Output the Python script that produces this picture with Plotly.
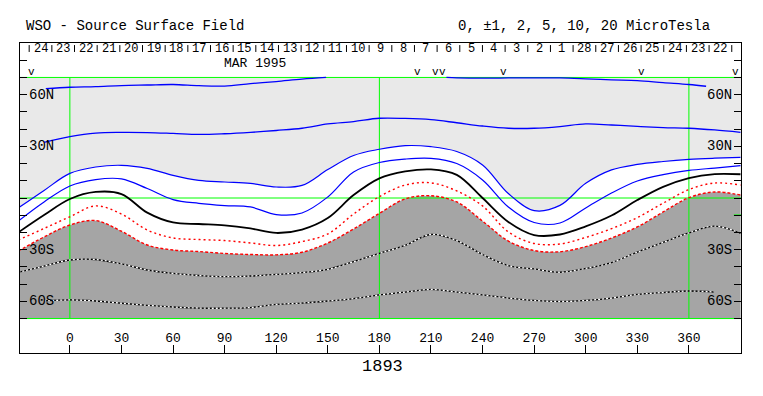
import plotly.graph_objects as go

# ---------------- data ----------------
LON = [-30, -15, 0, 15, 30, 45, 60, 75, 90, 105, 120, 135, 150, 165, 180, 195,
       210, 225, 240, 255, 270, 285, 300, 315, 330, 345, 360, 375, 390]

# contour latitudes (deg) at each LON
POS10_W_LON = [-14, 0, 15, 30, 45, 60, 75, 90, 105, 120, 135, 149]
POS10_W = [63.5, 64.3, 64.7, 65.3, 65.6, 65.9, 65.2, 65.0, 66.4, 67.6, 69.0, 70.0]
POS10_E_LON = [219, 225, 240, 255, 270, 285, 300, 315, 330, 345, 360, 370]
POS10_E = [70.0, 69.8, 69.6, 69.7, 69.8, 69.7, 69.2, 68.6, 68.2, 67.0, 65.9, 64.9]

POS5 = [None, 32.3, 35.6, 37.7, 38.1, 38.0, 37.5, 36.9, 37.3, 38.1, 39.2, 40.5, 43.0, 44.4,
        46.3, 46.2, 45.5, 43.7, 41.8, 40.5, 40.5, 41.5, 43.0, 42.4, 41.6, 40.9, 40.5, 39.5, 38.1]
POS2 = [-5.8, 4.4, 14.3, 18.0, 19.0, 17.2, 13.1, 10.2, 9.3, 8.5, 6.4, 7.3, 16.5, 24.7,
        28.3, 30.4, 29.8, 27.0, 19.2, 2.6, -7.3, -4.3, 8.5, 16.3, 19.5, 21.2, 22.4, 23.1, 23.6]
POS1 = [-13.4, -2.3, 7.0, 10.7, 11.1, 5.5, -0.9, -3.1, -4.4, -5.2, -9.6, -8.7, 0.6, 15.1,
        20.6, 22.6, 23.0, 20.0, 10.5, -5.2, -14.2, -14.5, -5.8, 2.9, 9.9, 13.6, 16.0, 17.4, 18.8]
NEUTRAL = [-20.0, -9.9, -0.6, 3.5, 2.3, -8.5, -14.2, -15.1, -15.9, -17.7, -20.3, -18.3, -11.6, 1.7,
           11.4, 15.4, 16.6, 13.4, 0.0, -13.9, -21.5, -21.2, -16.5, -10.2, -1.2, 6.5, 11.6, 13.9, 13.8]
NEG1 = [-24.4, -17.7, -10.9, -4.6, -9.3, -18.6, -23.2, -24.1, -24.7, -26.1, -27.6, -25.3, -20.9, -9.3,
        0.8, 7.5, 8.8, 4.1, -4.6, -19.7, -26.4, -26.7, -22.9, -17.8, -11.4, -3.0, 4.9, 8.7, 7.5]
NEG2 = [-30.8, -22.6, -15.7, -13.1, -19.3, -27.3, -30.2, -31.1, -32.2, -32.8, -33.0, -31.5, -26.1, -18.0,
        -8.9, -0.5, 1.3, -2.3, -13.4, -25.0, -30.5, -31.2, -28.2, -23.2, -16.8, -8.1, 0.2, 3.5, 1.7]
NEG5 = [-43.1, -39.5, -36.0, -35.7, -38.3, -41.8, -43.8, -45.0, -45.7, -45.3, -44.4, -43.3, -41.4, -37.0,
        -32.2, -27.5, -21.2, -24.7, -32.8, -39.2, -41.2, -43.1, -40.9, -37.5, -31.4, -25.8, -20.3, -16.3, -20.5]
NEG10 = [None, -59.8, -59.2, -59.8, -61.1, -62.3, -63.3, -63.9, -64.0, -63.6, -61.8, -61.0, -59.8, -58.4,
         -56.3, -54.6, -53.1, -54.6, -56.3, -58.1, -59.5, -60.1, -59.5, -58.1, -56.0, -54.9, -54.0, -54.6, None]

# axes / labels
X_TICKS = [0, 30, 60, 90, 120, 150, 180, 210, 240, 270, 300, 330, 360]
Y_TICKS = [-80, -70, -60, -50, -40, -30, -20, -10, 0, 10, 20, 30, 40, 50, 60, 70, 80]
LAT_LABEL_VALS = [60, 30, -30, -60]
LAT_LABEL_TEXT = ["60N", "30N", "30S", "60S"]
DAY_LABELS = ["24", "23", "22", "21", "20", "19", "18", "17", "16", "15", "14", "13", "12", "11",
              "10", "9", "8", "7", "6", "5", "4", "3", "2", "1", "28", "27", "26", "25", "24", "23", "22"]
DAY_TICK_START = -23.66   # Carrington longitude of first day boundary
DEG_PER_DAY = 13.18
OBS_LON = [-22.3, 202.1, 212.6, 216.6, 252.3, 332.3, 387.1]
GREEN_LON = [0, 180, 360]
GREEN_LAT = [-70, 0, 70]
B0_START, B0_END = -7.0, -9.9
ROTATION = "1893"
MONTH = "MAR 1995"
TITLE_L = "WSO - Source Surface Field"
TITLE_R = "0, \u00b11, 2, 5, 10, 20 MicroTesla"

XR = [-29.0, 390.3]
LIGHT = "#E9E9E9"
DARK = "#A5A5A5"
BLUE = "#0000FF"
RED = "#FF0000"
GREEN = "#00FF00"
FONT = "Liberation Mono"

fig = go.Figure()

# ---------------- fills ----------------
fig.add_trace(go.Scatter(x=LON, y=[GREEN_LAT[0]] * len(LON), mode="lines",
                         line=dict(width=0), hoverinfo="skip"))
fig.add_trace(go.Scatter(x=LON, y=NEG2, mode="lines", line=dict(width=0, shape="spline"),
                         fill="tonexty", fillcolor=DARK, hoverinfo="skip"))
fig.add_trace(go.Scatter(x=LON, y=POS2, mode="lines", line=dict(width=0, shape="spline"),
                         fill="tonexty", fillcolor="white", hoverinfo="skip"))

# ---------------- green reference lines ----------------
gx, gy = [], []
for lo in GREEN_LON:
    gx += [lo, lo, None]
    gy += [GREEN_LAT[0], GREEN_LAT[-1], None]
for la in GREEN_LAT:
    gx += [LON[0], LON[-1] + 2, None]
    gy += [la, la, None]
fig.add_trace(go.Scatter(x=gx, y=gy, mode="lines", line=dict(color=GREEN, width=1),
                         hoverinfo="skip"))

# ---------------- contour lines ----------------
def line(x, y, color, width, dash="solid"):
    fig.add_trace(go.Scatter(x=x, y=y, mode="lines",
                             line=dict(color=color, width=width, dash=dash, shape="spline"),
                             connectgaps=False, hoverinfo="skip"))

line(POS10_W_LON, POS10_W, BLUE, 1.3)
line(POS10_E_LON, POS10_E, BLUE, 1.3)
line(LON, POS5, BLUE, 1.3)
line(LON, POS2, BLUE, 1.2)
line(LON, POS1, BLUE, 1.2)
line(LON, NEUTRAL, "black", 1.8)
line(LON, NEG1, RED, 1.4, "2px,3px")
line(LON, NEG2, RED, 1.4, "3px,2px")
line(LON, NEG5, "black", 1.3)
line(LON, NEG5, "white", 1.3, "2px,2px")
line(LON, NEG10, "black", 1.3)
line(LON, NEG10, "white", 1.3, "2px,2px")

# day tick marks along the top
tx, ty = [], []
for k in range(len(DAY_LABELS) + 1):
    lo = DAY_TICK_START + DEG_PER_DAY * k
    tx += [lo, lo, None]
    ty += [88.8, 84.8, None]
fig.add_trace(go.Scatter(x=tx, y=ty, mode="lines", line=dict(color="black", width=1),
                         hoverinfo="skip"))

# B0 marker on the right edge
fig.add_trace(go.Scatter(x=[XR[1] - 4.2, XR[1]], y=[B0_END, B0_END], mode="lines",
                         line=dict(color=GREEN, width=1.2), hoverinfo="skip", cliponaxis=False))

# ---------------- annotations ----------------
ann = []
for i, lab in enumerate(DAY_LABELS):
    lo = DAY_TICK_START + DEG_PER_DAY * (i + 0.5)
    ann.append(dict(x=lo, y=86.3, xref="x", yref="y", text=lab, showarrow=False,
                    font=dict(size=12, family=FONT, color="black"), xanchor="center", yanchor="middle"))
ann.append(dict(x=107.5, y=77.9, xref="x", yref="y", text=MONTH, showarrow=False,
                font=dict(size=13, family=FONT, color="black"), xanchor="center", yanchor="middle"))
for lo in OBS_LON:
    ann.append(dict(x=lo, y=73.2, xref="x", yref="y", text="v", showarrow=False,
                    font=dict(size=11, family=FONT, color="black"), xanchor="center", yanchor="middle"))
for v, t in zip(LAT_LABEL_VALS, LAT_LABEL_TEXT):
    ann.append(dict(x=-25.2, y=v, xref="x", yref="y", text=t, showarrow=False,
                    font=dict(size=14, family=FONT, color="black"), xanchor="left", yanchor="middle"))
    ann.append(dict(x=386.0, y=v, xref="x", yref="y", text=t, showarrow=False,
                    font=dict(size=14, family=FONT, color="black"), xanchor="right", yanchor="middle"))
ann.append(dict(x=-31.5, y=B0_START, xref="x", yref="y", text=">", showarrow=False,
                font=dict(size=10, family=FONT, color=GREEN), xanchor="center", yanchor="middle"))
ann.append(dict(x=0.0055, y=1.0548, xref="paper", yref="paper", text=TITLE_L, showarrow=False,
                font=dict(size=14, family=FONT, color="black"), xanchor="left", yanchor="middle"))
ann.append(dict(x=0.605, y=1.0548, xref="paper", yref="paper", text=TITLE_R, showarrow=False,
                font=dict(size=14, family=FONT, color="black"), xanchor="left", yanchor="middle"))
ann.append(dict(x=0.5025, y=-0.045, xref="paper", yref="paper", text=ROTATION, showarrow=False,
                font=dict(size=17, family=FONT, color="black"), xanchor="center", yanchor="middle"))

# page body has an 8px default margin: size the figure so the frame lands at 20..741 x 43..353
fig.update_layout(
    width=755, height=388,
    margin=dict(l=12, r=22, t=35, b=43),
    paper_bgcolor="white", plot_bgcolor="white",
    showlegend=False,
    font=dict(family=FONT, color="black"),
    annotations=ann,
    shapes=[dict(type="rect", xref="x", yref="y", x0=LON[0], x1=LON[-1] + 2,
                 y0=GREEN_LAT[0], y1=GREEN_LAT[-1], fillcolor=LIGHT, line=dict(width=0),
                 layer="below")],
)
fig.update_xaxes(range=XR, tickvals=X_TICKS, ticktext=[str(v) for v in X_TICKS],
                 ticks="inside", ticklen=8, tickcolor="black", tickwidth=1,
                 ticklabelposition="inside", tickfont=dict(size=13, family=FONT, color="black"),
                 showgrid=False, zeroline=False, showline=True, mirror=True,
                 linecolor="black", linewidth=1, automargin=False, fixedrange=True)
fig.update_yaxes(range=[-90, 90], tickvals=Y_TICKS, ticks="inside", ticklen=7,
                 tickcolor="black", tickwidth=1, showticklabels=False,
                 showgrid=False, zeroline=False, showline=True, mirror="ticks",
                 linecolor="black", linewidth=1, automargin=False, fixedrange=True)

fig.write_html("out.html")
